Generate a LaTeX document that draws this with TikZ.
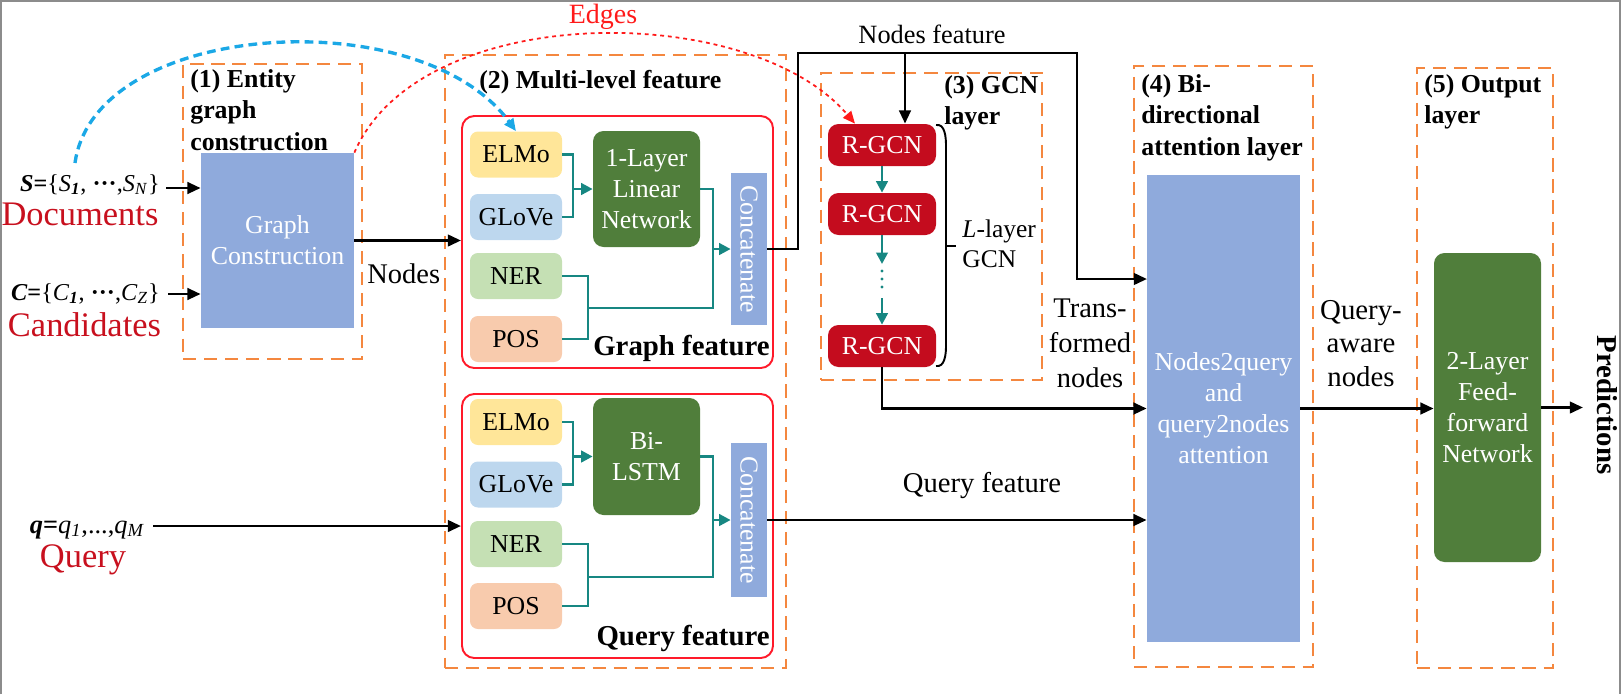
\documentclass[tikz,border=0pt]{standalone}
\usepackage{fontspec}
\setmainfont{Liberation Serif}
\usetikzlibrary{arrows.meta,calc}
\definecolor{orng}{HTML}{F4873F}
\definecolor{redb}{HTML}{FF1A2A}
\definecolor{bluef}{HTML}{8FAADC}
\definecolor{greenf}{HTML}{507E3B}
\definecolor{rgcn}{HTML}{C40C1E}
\definecolor{tealc}{HTML}{178782}
\definecolor{darkred}{HTML}{C8101E}
\definecolor{elmoc}{HTML}{FFE699}
\definecolor{glovec}{HTML}{BDD7EE}
\definecolor{nerc}{HTML}{C5E0B4}
\definecolor{posc}{HTML}{F8CBAD}
\definecolor{curveblue}{HTML}{1BA8E6}
\definecolor{curvered}{HTML}{FF1A1A}
\definecolor{framegray}{HTML}{8C8C8C}
\newcommand\fsz[2]{\fontsize{#1}{#2}\selectfont}
\tikzset{
 wh/.style 2 args={minimum width=#1*0.02cm, minimum height=#2*0.02cm},
 grp/.style={draw=orng, line width=1.2pt, dash pattern=on 7.5pt off 4.5pt, inner sep=0},
 featbox/.style={draw=redb, line width=1.1pt, rounded corners=7pt, inner sep=0},
 emb/.style={rounded corners=4.5pt, inner sep=0, wh={92}{46}, font=\fsz{14.7}{17.6}},
 gbox/.style={fill=greenf, rounded corners=6pt, inner sep=0, text=white, align=center, font=\fsz{14.7}{17.6}},
 bbox/.style={fill=bluef, inner sep=0, text=white, align=center, font=\fsz{14.7}{17.6}},
 rbox/.style={fill=rgcn, rounded corners=6pt, inner sep=0, wh={108}{42}, text=white, font=\fsz{14.7}{17.6}},
 arr/.style={line width=1.6pt, -{Triangle[length=7.5pt,width=6.5pt]}},
 tl/.style={draw=tealc, line width=1.5pt},
 tlarr/.style={tl, -{Triangle[length=6.5pt,width=6.5pt]}},
 ttl/.style={font=\bfseries\fsz{14.7}{18}, align=left, inner sep=0},
 lbl/.style={inner sep=0},
}
\begin{document}
\begin{tikzpicture}[x=0.02cm,y=-0.02cm]
\useasboundingbox (0,0) rectangle (1621,694);
\draw[framegray, line width=1.1pt] (1,694) -- (1,1) -- (1620,1) -- (1620,694);

% group frames
\node[grp, wh={179}{295}] (f1) at (272.5,211.5) {};
\node[grp, wh={341}{613}] (f2) at (615.5,361.5) {};
\node[grp, wh={221}{307}] (f3) at (931.5,226.5) {};
\node[grp, wh={179}{601}] (f4) at (1223.5,366.5) {};
\node[grp, wh={136}{600}] (f5) at (1485,368) {};

% titles
\node[ttl, anchor=north west] (t1) at (190,69) {(1) Entity\\graph\\construction};
\node[ttl, anchor=base west] (t2) at (479,88) {(2) Multi-level feature};
\node[ttl, anchor=north west] (t3) at (944,75) {(3) GCN\\layer};
\node[ttl, anchor=north west] (t4) at (1141,74) {(4) Bi-\\directional\\attention layer};
\node[ttl, anchor=north west] (t5) at (1424,74) {(5) Output\\layer};

% stage 1
\node[bbox, wh={153}{175}] (gc) at (277.5,240.5) {Graph\\Construction};

% stage 2
\node[featbox, wh={311}{252}] (gfeat) at (617.5,242) {};
\node[featbox, wh={311}{264}] (qfeat) at (617.5,526) {};
\node[emb, fill=elmoc] (elmo1) at (516,154.5) {ELMo};
\node[emb, fill=glovec] (glove1) at (516,217) {GLoVe};
\node[emb, fill=nerc] (ner1) at (516,276) {NER};
\node[emb, fill=posc] (pos1) at (516,339) {POS};
\node[gbox, wh={107}{116}] (lin) at (646.5,189) {1-Layer\\Linear\\Network};
\node[bbox, wh={36}{152}] (cat1) at (749,249) {};
\node[rotate=-90, text=white, lbl, font=\fsz{14.7}{17.6}] (cat1t) at (cat1.center) {Concatenate};
\node[emb, fill=elmoc] (elmo2) at (516,422) {ELMo};
\node[emb, fill=glovec] (glove2) at (516,484.5) {GLoVe};
\node[emb, fill=nerc] (ner2) at (516,544) {NER};
\node[emb, fill=posc] (pos2) at (516,606) {POS};
\node[gbox, wh={107}{117}] (lstm) at (646.5,456.5) {Bi-\\LSTM};
\node[bbox, wh={36}{154}] (cat2) at (749,520) {};
\node[rotate=-90, text=white, lbl, font=\fsz{14.7}{17.6}] (cat2t) at (cat2.center) {Concatenate};
\node[lbl, anchor=base east, font=\bfseries\fsz{16.4}{19}] (gft) at (770,355) {Graph feature};
\node[lbl, anchor=base east, font=\bfseries\fsz{16.4}{19}] (qft) at (770,645) {Query feature};

% teal connectors (graph feature)
\coordinate (j1) at (573,189);
\coordinate (j2) at (713,249);
\coordinate (j3) at (588,308);
\draw[tl] (elmo1.east) -| (j1) |- (glove1.east);
\draw[tlarr] (j1) -- (lin.west);
\draw[tlarr] (lin.east) -| (j2) -- (cat1.west);
\draw[tl] (ner1.east) -| (j3) |- (pos1.east);
\draw[tl] (j3) -| (j2);
% teal connectors (query feature)
\coordinate (j4) at (573,456.5);
\coordinate (j5) at (713,520);
\coordinate (j6) at (588,577);
\draw[tl] (elmo2.east) -| (j4) |- (glove2.east);
\draw[tlarr] (j4) -- (lstm.west);
\draw[tlarr] (lstm.east) -| (j5) -- (cat2.west);
\draw[tl] (ner2.east) -| (j6) |- (pos2.east);
\draw[tl] (j6) -| (j5);

% stage 3
\node[rbox] (rg1) at (882,145) {R-GCN};
\node[rbox] (rg2) at (882,214) {R-GCN};
\node[rbox] (rg3) at (882,346) {R-GCN};
\coordinate (d1) at (882,264);
\coordinate (d2) at (882,298);
\draw[tlarr] (rg1.south) -- (rg2.north);
\draw[tlarr] (rg2.south) -- (d1);
\draw[tlarr] (d2) -- (rg3.north);
\foreach \yy in {271,279,287} \fill[tealc] (882,\yy) circle (1.6);
\draw[line width=1.1pt] (936,125) to[out=10,in=90] (946,146) -- (946,346) to[out=-90,in=-10] (936,366);
\draw[line width=1.1pt] (946,246) -- (956,246);
\node[lbl, anchor=north west, align=left, font=\fsz{14.5}{17.6}] (llay) at (962,219) {\textit{L}-layer\\GCN};

% stage 4 and 5
\node[bbox, wh={153}{467}] (att) at (1223.5,408.5) {Nodes2query\\and\\query2nodes\\attention};
\node[gbox, wh={107}{309}] (ff) at (1487.5,407.5) {2-Layer\\Feed-\\forward\\Network};
\node[rotate=-90, lbl, font=\bfseries\fsz{16.4}{19}] (pred) at (1607,405) {Predictions};

% inputs
\node[lbl, anchor=base east, font=\fsz{13.8}{16}] (stext) at (160,191) {\textbf{\textit{S}}\textbf{=}\{\textit{S}\textsubscript{\textbf{\textit{1}}}, \textbf{···},\textit{S}\textsubscript{\textit{N}}\}};
\node[lbl, anchor=base, text=darkred, font=\fsz{19.6}{22}] (doc) at (80,225) {Documents};
\node[lbl, anchor=base east, font=\fsz{13.8}{16}] (ctext) at (160,300) {\textbf{\textit{C}}\textbf{=}\{\textit{C}\textsubscript{\textbf{\textit{1}}}, \textbf{···},\textit{C}\textsubscript{\textit{Z}}\}};
\node[lbl, anchor=base, text=darkred, font=\fsz{19.6}{22}] (cand) at (84.5,336) {Candidates};
\node[lbl, anchor=base east, font=\fsz{15}{18}] (qtext) at (145,533) {\textbf{\textit{q}}\textbf{=}\textit{q}\textsubscript{\textit{1}},...,\textit{q}\textsubscript{\textit{M}}};
\node[lbl, anchor=base, text=darkred, font=\fsz{19.6}{22}] (qry) at (83,567) {Query};

\coordinate (sin) at (166,188);
\coordinate (cin) at (168,294);
\coordinate (qin) at (153,526);
\draw[arr] (sin) -- (sin -| gc.west);
\draw[arr] (cin) -- (cin -| gc.west);
\draw[arr] (qin) -- (qin -| qfeat.west);
\draw[arr] (gc.east) -- (gc.east -| gfeat.west);
\node[lbl, anchor=base west, font=\fsz{16.2}{19}] (nodesl) at (367,283) {Nodes};

% nodes feature route
\coordinate (nf1) at (798,53);
\coordinate (nf2) at (1077,53);
\coordinate (nfm) at (905,53);
\coordinate (ain1) at (1147,279);
\draw[arr] (cat1.east) -| (nf1) -- (nf2) |- (ain1);
\draw[arr] (nfm) -- (nfm |- rg1.north);
\node[lbl, anchor=base, font=\fsz{15}{18}] (nfl) at (932,43) {Nodes feature};

\draw[arr] (rg3.south) |- (att.west);
\node[lbl, anchor=north, align=center, font=\fsz{16.2}{19.8}] (trl) at (1090,299) {Trans-\\formed\\nodes};
\draw[arr] (cat2.east) -- (cat2.east -| att.west);
\node[lbl, anchor=base, font=\fsz{16.3}{19}] (qfl) at (982,492) {Query feature};
\draw[arr] (att.east) -- (att.east -| ff.west);
\node[lbl, anchor=north, align=center, font=\fsz{16.4}{19}] (qal) at (1361,300) {Query-\\aware\\nodes};
\coordinate (pout) at (1583,407.5);
\draw[arr] (ff.east) -- (pout);

% curved edges
\coordinate (bstart) at (75,163);
\draw[curveblue, line width=1.9pt, dash pattern=on 5pt off 3pt, -{Triangle[length=7pt,width=6pt]}]
  (bstart) .. controls (95,20) and (420,0) .. (elmo1.north);
\draw[curvered, line width=1pt, dash pattern=on 2.2pt off 2.2pt, -{Triangle[length=7pt,width=6pt]}]
  (gc.north east) .. controls (420,0) and (750,0) .. ($(rg1.north)+(-27,0)$);
\node[lbl, anchor=base, text=curvered, font=\fsz{15.9}{18}] (edges) at (603,23) {Edges};
\end{tikzpicture}
\end{document}
